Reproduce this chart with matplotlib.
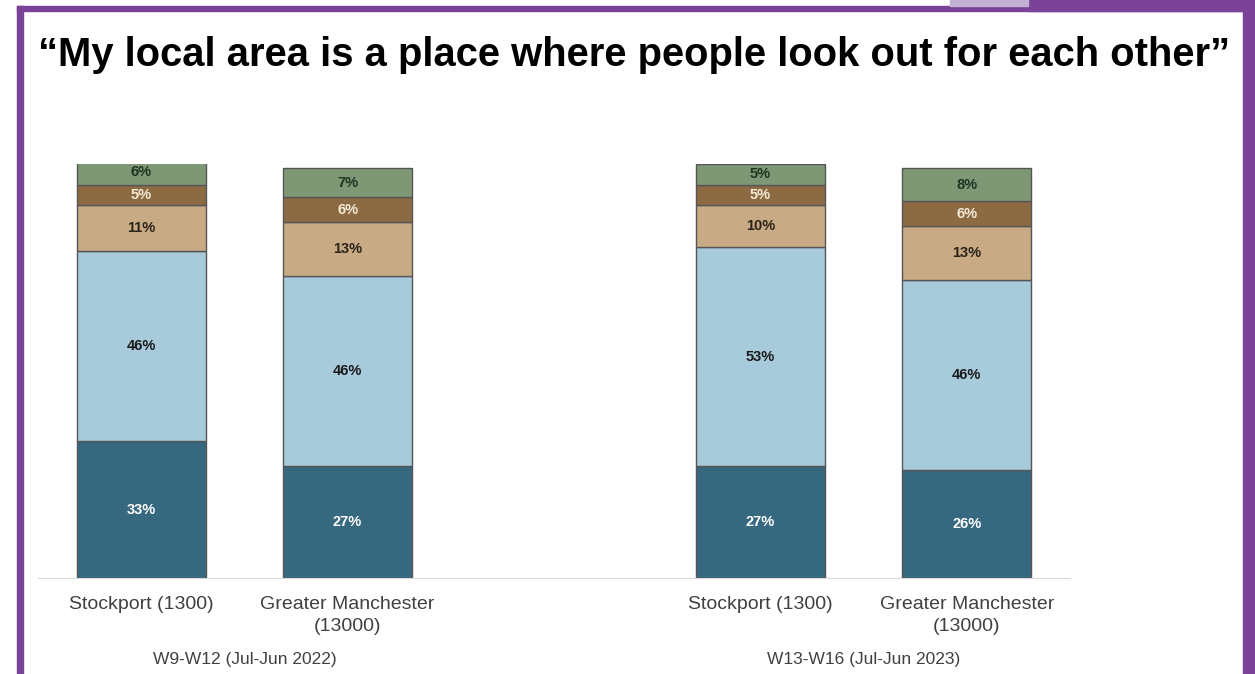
import numpy as np
import matplotlib
matplotlib.use("Agg")
import matplotlib.pyplot as plt
from matplotlib.patches import Rectangle

plt.rcParams['font.family'] = ['Liberation Sans', 'DejaVu Sans']

# data (bottom segment first)
categories = ["Stockport (1300)", "Greater Manchester\n(13000)",
              "Stockport (1300)", "Greater Manchester\n(13000)"]
positions = [0, 1, 3, 4]
groups = ["W9-W12 (Jul-Jun 2022)", "W13-W16 (Jul-Jun 2023)"]
strongly_agree = [33, 27, 27, 26]
tend_agree = [46, 46, 53, 46]
neither = [11, 13, 10, 13]
tend_disagree = [5, 6, 5, 6]
strongly_disagree = [6, 7, 5, 8]

series = [strongly_agree, tend_agree, neither, tend_disagree, strongly_disagree]
colors = ["#36687f", "#a8cbdc", "#c8aa85", "#8d6b42", "#7e9876"]
label_colors = ["white", "#1a1a1a", "#2b2418", "#f3ead8", "#1f3320"]

W, H = 1255, 674
fig = plt.figure(figsize=(W / 100, H / 100), dpi=100)

# slide frame
fig.patches.append(Rectangle((17 / W, 0), 6 / W, 1 - 6 / H, transform=fig.transFigure,
                             color="#7b4397", zorder=0))
fig.patches.append(Rectangle((17 / W, 1 - 11 / H), (1243 - 17) / W, 5 / H,
                             transform=fig.transFigure, color="#7b4397", zorder=0))
fig.patches.append(Rectangle((1243 / W, 0), 12 / W, 1, transform=fig.transFigure,
                             color="#7b4397", zorder=0))
fig.patches.append(Rectangle((1028 / W, 1 - 11 / H), 227 / W, 11 / H,
                             transform=fig.transFigure, color="#7b4397", zorder=0))
fig.patches.append(Rectangle((950 / W, 1 - 6 / H), 78 / W, 6 / H,
                             transform=fig.transFigure, color="#c5b0d5", zorder=0))

fig.text(38 / W, 1 - 55 / H,
         "\u201cMy local area is a place where people look out for each other\u201d",
         fontsize=28.8, fontweight="bold", color="black", va="center", ha="left")

ax = fig.add_axes([38 / W, 96 / H, (1070 - 38) / W, 414 / H])
bottom = np.zeros(len(positions))
for vals, c, lc in zip(series, colors, label_colors):
    vals = np.array(vals)
    ax.bar(positions, vals, width=0.625, bottom=bottom, color=c,
           edgecolor="#555555", linewidth=1)
    for x, v, b in zip(positions, vals, bottom):
        ax.text(x, b + v / 2, f"{v}%", ha="center", va="center",
                fontsize=10.5, fontweight="bold", color=lc)
    bottom += vals

ax.set_xlim(-0.5, 4.5)
ax.set_ylim(0, 100)
ax.set_yticks([])
ax.set_xticks(positions)
ax.set_xticklabels(categories, fontsize=14, color="#404040", linespacing=1.35)
ax.tick_params(axis="x", length=0, pad=13)
for s in ["top", "right", "left"]:
    ax.spines[s].set_visible(False)
ax.spines["bottom"].set_color("#d9d9d9")

for i, g in enumerate(groups):
    ax.text(0.5 + 3 * i, -19.8, g, ha="center", va="center",
            fontsize=12.5, color="#404040")

fig.savefig("out.png", dpi=100)
